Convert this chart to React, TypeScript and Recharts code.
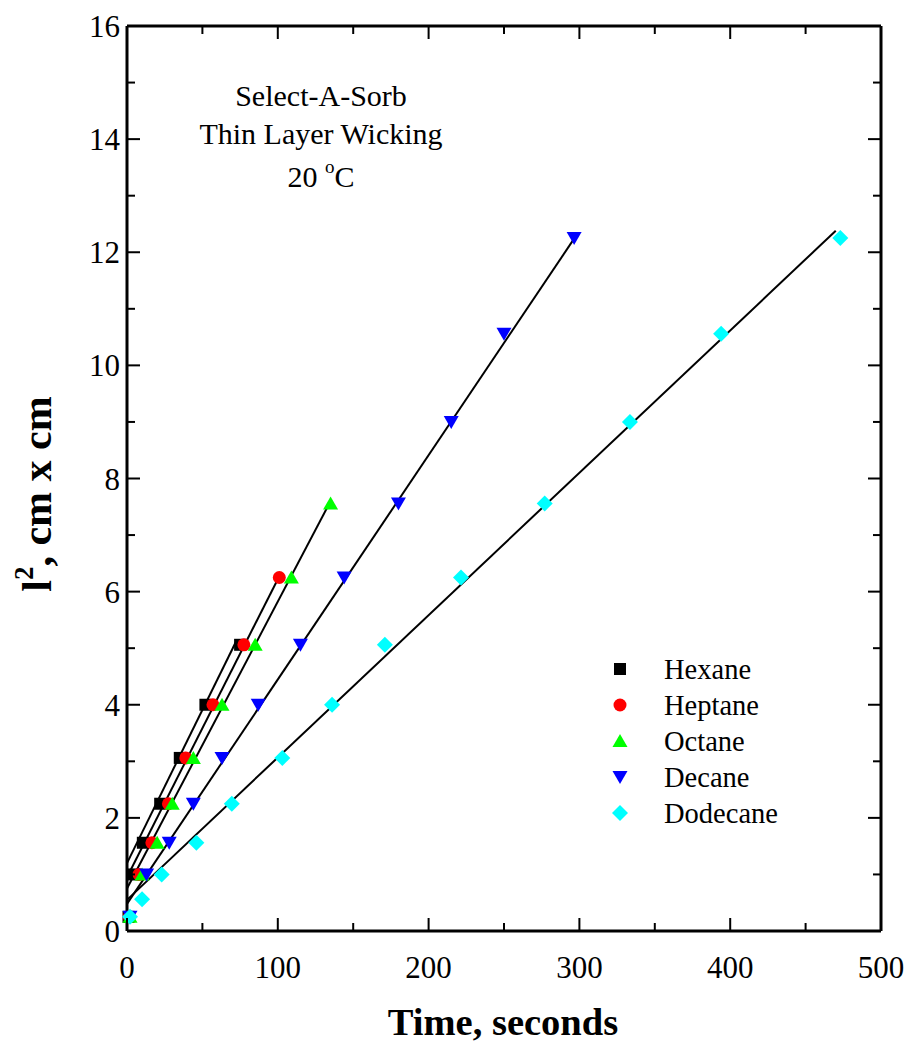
import React from "react";
import { ScatterChart, Scatter, XAxis, YAxis, ReferenceLine } from "recharts";

type Pt = { x: number; y: number };

// measured points (time s, l^2 cm^2)
const hexane: Pt[] = [
  { x: 1, y: 0.25 }, { x: 4.5, y: 1.0 }, { x: 10.5, y: 1.56 }, { x: 22, y: 2.25 },
  { x: 35, y: 3.06 }, { x: 52, y: 4.0 }, { x: 75, y: 5.06 },
];
const heptane: Pt[] = [
  { x: 1.5, y: 0.25 }, { x: 8, y: 1.0 }, { x: 16.5, y: 1.56 }, { x: 27.5, y: 2.25 },
  { x: 39, y: 3.06 }, { x: 57, y: 4.0 }, { x: 77.5, y: 5.06 }, { x: 101, y: 6.25 },
];
const octane: Pt[] = [
  { x: 2, y: 0.25 }, { x: 10, y: 1.0 }, { x: 20, y: 1.56 }, { x: 30, y: 2.25 },
  { x: 44, y: 3.06 }, { x: 63, y: 4.0 }, { x: 85, y: 5.06 }, { x: 109, y: 6.25 },
  { x: 135, y: 7.56 },
];
const decane: Pt[] = [
  { x: 2, y: 0.25 }, { x: 13, y: 1.0 }, { x: 28, y: 1.56 }, { x: 44, y: 2.25 },
  { x: 63, y: 3.06 }, { x: 87, y: 4.0 }, { x: 115, y: 5.06 }, { x: 144, y: 6.25 },
  { x: 180, y: 7.56 }, { x: 215, y: 9.0 }, { x: 250, y: 10.56 }, { x: 296.5, y: 12.25 },
];
const dodecane: Pt[] = [
  { x: 2, y: 0.25 }, { x: 10, y: 0.56 }, { x: 23, y: 1.0 }, { x: 46, y: 1.56 },
  { x: 69.5, y: 2.25 }, { x: 103, y: 3.06 }, { x: 136, y: 4.0 }, { x: 171, y: 5.06 },
  { x: 221.5, y: 6.25 }, { x: 277, y: 7.56 }, { x: 333.5, y: 9.0 }, { x: 394, y: 10.56 },
  { x: 473, y: 12.25 },
];

// fitted straight lines (end points)
const fitHexane: Pt[] = [{ x: 0, y: 1.2 }, { x: 72, y: 5.1 }];
const fitHeptane: Pt[] = [{ x: 0, y: 0.95 }, { x: 100, y: 6.22 }];
const fitOctane: Pt[] = [{ x: 0, y: 0.75 }, { x: 134.6, y: 7.58 }];
const fitDecane: Pt[] = [{ x: 0, y: 0.48 }, { x: 296.5, y: 12.24 }];
const fitDodecane: Pt[] = [{ x: 0, y: 0.55 }, { x: 470, y: 12.38 }];

const xTicks = [0, 50, 100, 150, 200, 250, 300, 350, 400, 450, 500];
const yTicks = [0, 1, 2, 3, 4, 5, 6, 7, 8, 9, 10, 11, 12, 13, 14, 15, 16];

const W = 908;
const H = 1045;
const LEFT = 127;
const RIGHT = 881;
const TOP = 26;
const BOTTOM = 931;
const FONT = "'Liberation Serif', 'Times New Roman', serif";

type Kind = "square" | "circle" | "up" | "down" | "diamond";

function Marker({ cx, cy, kind, color }: { cx: number; cy: number; kind: Kind; color: string }) {
  if (kind === "square") return <rect x={cx - 6} y={cy - 6} width={12} height={12} fill={color} />;
  if (kind === "circle") return <circle cx={cx} cy={cy} r={6.5} fill={color} />;
  if (kind === "up")
    return <polygon points={`${cx - 7.5},${cy + 6} ${cx + 7.5},${cy + 6} ${cx},${cy - 7}`} fill={color} />;
  if (kind === "down")
    return <polygon points={`${cx - 7.5},${cy - 6} ${cx + 7.5},${cy - 6} ${cx},${cy + 7}`} fill={color} />;
  return <polygon points={`${cx - 8},${cy} ${cx},${cy - 8} ${cx + 8},${cy} ${cx},${cy + 8}`} fill={color} />;
}

const series = [
  { name: "Hexane", data: hexane, fit: fitHexane, kind: "square" as Kind, color: "#000000" },
  { name: "Heptane", data: heptane, fit: fitHeptane, kind: "circle" as Kind, color: "#ff0000" },
  { name: "Octane", data: octane, fit: fitOctane, kind: "up" as Kind, color: "#00ff00" },
  { name: "Decane", data: decane, fit: fitDecane, kind: "down" as Kind, color: "#0000ff" },
  { name: "Dodecane", data: dodecane, fit: fitDodecane, kind: "diamond" as Kind, color: "#00ffff" },
];

function XTick(props: any) {
  const { x, payload } = props;
  const v = payload.value as number;
  const major = v % 100 === 0;
  const len = major ? 13 : 8;
  return (
    <g>
      <line x1={x} x2={x} y1={BOTTOM} y2={BOTTOM - len} stroke="#000" strokeWidth={2} />
      <line x1={x} x2={x} y1={TOP} y2={TOP + len} stroke="#000" strokeWidth={2} />
      {major && (
        <text x={x} y={978} textAnchor="middle" fontFamily={FONT} fontSize={31} fill="#000">
          {v}
        </text>
      )}
    </g>
  );
}

function YTick(props: any) {
  const { y, payload } = props;
  const v = payload.value as number;
  const major = v % 2 === 0;
  const len = major ? 13 : 8;
  return (
    <g>
      <line x1={LEFT} x2={LEFT + len} y1={y} y2={y} stroke="#000" strokeWidth={2} />
      <line x1={RIGHT} x2={RIGHT - len} y1={y} y2={y} stroke="#000" strokeWidth={2} />
      {major && (
        <text x={LEFT - 7} y={y + 11} textAnchor="end" fontFamily={FONT} fontSize={31} fill="#000">
          {v}
        </text>
      )}
    </g>
  );
}

export default function App() {
  return (
    <div style={{ position: "absolute", left: 0, top: 0, width: W, height: H, background: "#fff" }}>
      <ScatterChart
        width={W}
        height={H}
        margin={{ top: TOP, right: W - RIGHT, bottom: H - BOTTOM - 60, left: LEFT - 80 }}
      >
        <XAxis
          type="number"
          dataKey="x"
          domain={[0, 500]}
          ticks={xTicks}
          interval={0}
          height={60}
          tickLine={false}
          tick={<XTick />}
          axisLine={{ stroke: "#000", strokeWidth: 3 }}
        />
        <YAxis
          type="number"
          dataKey="y"
          domain={[0, 16]}
          ticks={yTicks}
          interval={0}
          width={80}
          tickLine={false}
          tick={<YTick />}
          axisLine={{ stroke: "#000", strokeWidth: 3 }}
        />
        <ReferenceLine y={16} stroke="#000" strokeWidth={3} ifOverflow="visible" />
        <ReferenceLine x={500} stroke="#000" strokeWidth={3} ifOverflow="visible" />
        {series.map((s) => (
          <Scatter
            key={s.name + "-fit"}
            data={s.fit}
            line={{ stroke: "#000", strokeWidth: 2 }}
            shape={() => <g />}
            isAnimationActive={false}
          />
        ))}
        {series.map((s) => (
          <Scatter
            key={s.name}
            name={s.name}
            data={s.data}
            isAnimationActive={false}
            shape={(p: any) => <Marker cx={p.cx} cy={p.cy} kind={s.kind} color={s.color} />}
          />
        ))}
      </ScatterChart>
      <svg
        width={W}
        height={H}
        style={{ position: "absolute", left: 0, top: 0, pointerEvents: "none" }}
        fontFamily={FONT}
      >
        <g fontSize={30} textAnchor="middle" fill="#000">
          <text x={321} y={106}>Select-A-Sorb</text>
          <text x={321} y={144}>Thin Layer Wicking</text>
          <text x={321} y={187}>
            20 <tspan fontSize={19} dy={-14}>o</tspan>
            <tspan dy={14}>C</tspan>
          </text>
        </g>
        {series.map((s, i) => (
          <g key={s.name}>
            <Marker cx={620} cy={669 + i * 36} kind={s.kind} color={s.color} />
            <text x={664} y={679 + i * 36} fontSize={28.5} fill="#000">
              {s.name}
            </text>
          </g>
        ))}
        <text x={503} y={1035} textAnchor="middle" fontSize={38.5} fontWeight="bold" fill="#000">
          Time, seconds
        </text>
        <text
          transform="translate(51,494) rotate(-90)"
          textAnchor="middle"
          fontSize={42}
          fontWeight="bold"
          fill="#000"
        >
          l<tspan fontSize={27} dy={-18}>2</tspan>
          <tspan dy={18}>, cm x cm</tspan>
        </text>
      </svg>
    </div>
  );
}
